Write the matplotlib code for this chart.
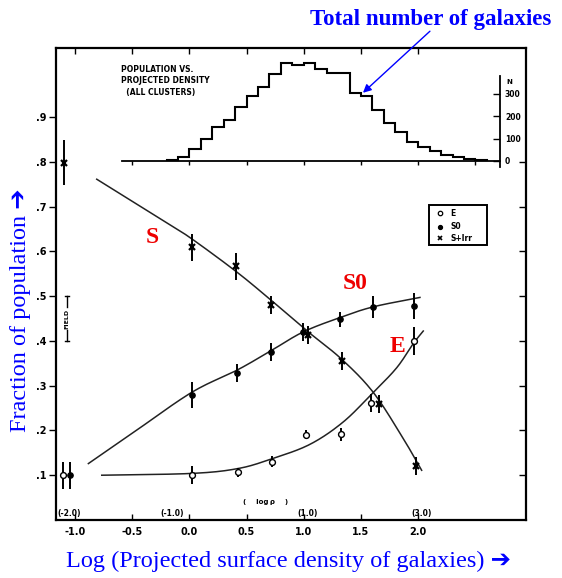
import numpy as np
import matplotlib
matplotlib.use('Agg')
import matplotlib.pyplot as plt
from matplotlib.patches import Rectangle

# ---------------- data ----------------
# histogram of total number of galaxies vs log(projected density)
hist_edges = [-0.2, -0.1, 0.0, 0.1, 0.2, 0.3, 0.4, 0.5, 0.6, 0.7, 0.8, 0.9, 1.0,
              1.1, 1.2, 1.3, 1.4, 1.5, 1.6, 1.7, 1.8, 1.9, 2.0, 2.1, 2.2, 2.3,
              2.4, 2.5, 2.6]
hist_counts = [3, 20, 52, 97, 153, 184, 241, 288, 332, 388, 436, 430, 436, 412,
               394, 394, 305, 290, 228, 168, 131, 86, 64, 46, 27, 20, 10, 5]

# measured fractions (with error bars); first point of each is the "field"
s_x = [-1.10, 0.02, 0.41, 0.71, 1.04, 1.33, 1.66, 1.98]
s_y = [0.798, 0.609, 0.567, 0.480, 0.413, 0.355, 0.260, 0.120]
s_err = [0.05, 0.03, 0.03, 0.02, 0.02, 0.02, 0.02, 0.02]

s0_x = [-1.044, 0.02, 0.42, 0.71, 0.995, 1.316, 1.607, 1.965]
s0_y = [0.100, 0.279, 0.329, 0.376, 0.420, 0.448, 0.476, 0.478]
s0_err = [0.03, 0.03, 0.02, 0.02, 0.02, 0.017, 0.025, 0.03]

e_x = [-1.107, 0.02, 0.427, 0.724, 1.016, 1.325, 1.584, 1.965]
e_y = [0.100, 0.100, 0.107, 0.130, 0.190, 0.191, 0.262, 0.400]
e_err = [0.03, 0.02, 0.01, 0.012, 0.01, 0.015, 0.02, 0.032]

# hand-drawn trend curves
s_curve_x = [-0.81, -0.432, -0.198, 0.02, 0.413, 0.713, 1.039, 1.331, 1.607, 1.864, 2.03]
s_curve_y = [0.761, 0.701, 0.664, 0.628, 0.554, 0.491, 0.420, 0.359, 0.285, 0.184, 0.111]
s0_curve_x = [-0.883, -0.492, 0.02, 0.419, 0.713, 0.995, 1.316, 1.607, 2.015]
s0_curve_y = [0.126, 0.195, 0.285, 0.335, 0.378, 0.420, 0.452, 0.476, 0.497]
e_curve_x = [-0.766, 0.02, 0.427, 0.724, 1.054, 1.345, 1.607, 1.812, 1.957, 2.044]
e_curve_y = [0.100, 0.104, 0.115, 0.137, 0.169, 0.219, 0.285, 0.340, 0.394, 0.422]

x_ticks = [-1.0, -0.5, 0.0, 0.5, 1.0, 1.5, 2.0]
x_ticklabels = ['-1.0', '-0.5', '0.0', '0.5', '1.0', '1.5', '2.0']
y_ticks = [0.1, 0.2, 0.3, 0.4, 0.5, 0.6, 0.7, 0.8, 0.9]
y_ticklabels = ['.1', '.2', '.3', '.4', '.5', '.6', '.7', '.8', '.9']
rho_labels = ['(-2.0)', '(-1.0)', '(1.0)', '(3.0)']
rho_pos = [-1.05, -0.15, 1.03, 2.03]
n_ticks = [0, 100, 200, 300]


def smooth(xs, ys, n=20):
    """Catmull-Rom rendering through the given points."""
    p = np.column_stack([xs, ys]).astype(float)
    p = np.vstack([2 * p[0] - p[1], p, 2 * p[-1] - p[-2]])
    out = []
    t = np.linspace(0, 1, n, endpoint=False)[:, None]
    for i in range(1, len(p) - 2):
        p0, p1, p2, p3 = p[i - 1], p[i], p[i + 1], p[i + 2]
        seg = 0.5 * ((2 * p1) + (-p0 + p2) * t + (2 * p0 - 5 * p1 + 4 * p2 - p3) * t ** 2
                     + (-p0 + 3 * p1 - 3 * p2 + p3) * t ** 3)
        out.append(seg)
    out.append(p[-2][None, :])
    out = np.vstack(out)
    return out[:, 0], out[:, 1]


# ---------------- figure ----------------
fig = plt.figure(figsize=(5.62, 5.78), dpi=100)
ax = fig.add_axes([56 / 562, 1 - 520 / 578, 470 / 562, 472 / 578])
XMIN, XMAX = -1.166, 2.942
ax.set_xlim(XMIN, XMAX)
ax.set_ylim(0, 1.054)
for sp in ax.spines.values():
    sp.set_linewidth(1.6)

scan_font = dict(family='DejaVu Sans', weight='bold')

ax.set_xticks(x_ticks)
ax.set_xticklabels(x_ticklabels, fontsize=7, **scan_font)
ax.tick_params(axis='x', direction='in', top=True, length=4, width=1, pad=5)
ax.set_yticks(y_ticks)
ax.set_yticklabels(y_ticklabels, fontsize=7, **scan_font)
ax.tick_params(axis='y', direction='out', length=5, width=1, pad=1.5)

axr = ax.twinx()
axr.set_ylim(0, 1.054)
axr.set_yticks(y_ticks[:-1])
axr.tick_params(axis='y', direction='in', length=5, width=1, labelright=False)
for sp in axr.spines.values():
    sp.set_visible(False)

# curves
for cx, cy in [(s_curve_x, s_curve_y), (s0_curve_x, s0_curve_y), (e_curve_x, e_curve_y)]:
    sx, sy = smooth(cx, cy)
    ax.plot(sx, sy, color='#222222', lw=1.1)

# points with error bars
eb = dict(ecolor='black', elinewidth=1.4, capsize=0, linestyle='none', zorder=5)
ax.errorbar(s_x, s_y, yerr=s_err, marker='x', ms=4, mew=1.6, color='black', **eb)
ax.errorbar(s0_x, s0_y, yerr=s0_err, marker='o', ms=3.8, color='black', **eb)
ax.errorbar(e_x, e_y, yerr=e_err, marker='o', ms=4.2, mfc='white', mec='black',
            mew=1.0, color='black', **eb)

# FIELD marker
ax.plot([-1.07, -1.07], [0.40, 0.425], color='black', lw=1.0)
ax.plot([-1.07, -1.07], [0.475, 0.50], color='black', lw=1.0)
ax.plot([-1.09, -1.05], [0.40, 0.40], color='black', lw=1.0)
ax.plot([-1.09, -1.05], [0.50, 0.50], color='black', lw=1.0)
ax.text(-1.07, 0.45, 'FIELD', rotation=90, ha='center', va='center', fontsize=4.5, **scan_font)

# rho labels along the bottom
for lab, xp in zip(rho_labels, rho_pos):
    ax.text(xp, 0.0145, lab, ha='center', va='center', fontsize=5.5, **scan_font)
ax.text(0.67, 0.041, '(    log\u2009\u03c1    )', ha='center', va='center', fontsize=5, **scan_font)

# legend box
ax.add_patch(Rectangle((2.097, 0.614), 0.507, 0.089, fill=False, lw=1.4, ec='black'))
leg_rows = [('E', dict(marker='o', mfc='white', mec='black', ms=3.2, mew=0.9), 0.685),
            ('S0', dict(marker='o', color='black', ms=2.8), 0.655),
            ('S+Irr', dict(marker='x', color='black', ms=3, mew=1.2), 0.629)]
for lab, mk, yy in leg_rows:
    ax.plot([2.19], [yy], linestyle='none', **mk)
    ax.text(2.28, yy, lab, ha='left', va='center', fontsize=5.5, **scan_font)

# red labels
red = dict(color='#ee0000', fontsize=17, weight='bold', family='Liberation Serif',
           ha='center', va='center')
ax.text(-0.327, 0.630, 'S', **red)
ax.text(1.447, 0.529, 'S0', **red)
ax.text(1.823, 0.388, 'E', **red)

# inset histogram
N_SCALE = 0.0005006  # main-axis units per galaxy
N_TOP = 460
IN_RIGHT = 2.715
axin = ax.inset_axes([XMIN, 0.8017, IN_RIGHT - XMIN, N_TOP * N_SCALE], transform=ax.transData)
axin.set_xlim(XMIN, IN_RIGHT)
axin.set_ylim(0, N_TOP)
axin.patch.set_visible(False)
axin.spines['top'].set_visible(False)
axin.spines['left'].set_visible(False)
axin.spines['bottom'].set_bounds(-0.59, IN_RIGHT)
axin.spines['right'].set_bounds(-25, 378)
axin.spines['bottom'].set_linewidth(1.3)
axin.spines['right'].set_linewidth(1.3)
axin.stairs(hist_counts, hist_edges, color='black', lw=1.5, clip_on=False)
axin.set_xticks([-0.5, 0.0, 0.5, 1.0, 1.5, 2.0, 2.5])
axin.tick_params(axis='x', direction='out', length=3, width=1, labelbottom=False)
axin.yaxis.tick_right()
axin.set_yticks(n_ticks)
axin.set_yticklabels([str(v) for v in n_ticks], fontsize=5.5, **scan_font)
axin.tick_params(axis='y', direction='in', length=5, width=1, pad=3.5)
axin.text(2.80, 352, 'N', ha='center', va='center', fontsize=5, **scan_font)
axin.text(-0.6, 428, 'POPULATION VS.\nPROJECTED DENSITY\n  (ALL CLUSTERS)', ha='left', va='top',
          fontsize=5.5, linespacing=1.35, **scan_font)

# blue annotations
blue = '#0000ff'
fig.text(0.767, 0.967, 'Total number of galaxies', color=blue, fontsize=16.5, weight='bold',
         family='Liberation Serif', ha='center', va='center')
ax.annotate('', xy=(1.517, 0.954), xycoords='data', xytext=(0.765, 0.946),
            textcoords='figure fraction',
            arrowprops=dict(arrowstyle='-|>', color=blue, lw=1.0, mutation_scale=12,
                            shrinkA=0, shrinkB=0))
fig.text(0.036, 0.464, 'Fraction of population \u2794', rotation=90, color=blue, fontsize=17.5,
         family=['Liberation Serif', 'DejaVu Sans'], ha='center', va='center')
fig.text(0.514, 0.028, 'Log (Projected surface density of galaxies) \u2794', color=blue,
         fontsize=17.5, family=['Liberation Serif', 'DejaVu Sans'], ha='center', va='center')

fig.savefig('out.png', dpi=100)
